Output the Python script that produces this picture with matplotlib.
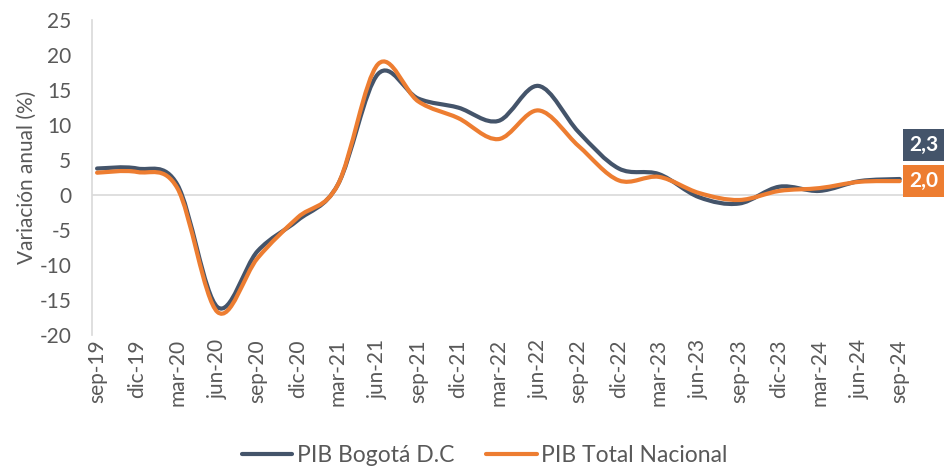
import matplotlib

matplotlib.use("Agg")
import matplotlib.pyplot as plt
import numpy as np
from matplotlib.path import Path
from matplotlib.patches import PathPatch
from matplotlib.lines import Line2D

plt.rcParams["font.family"] = ["Lato", "DejaVu Sans"]
plt.rcParams["axes.unicode_minus"] = False

quarters = ["sep-19", "dic-19", "mar-20", "jun-20", "sep-20", "dic-20", "mar-21",
            "jun-21", "sep-21", "dic-21", "mar-22", "jun-22", "sep-22", "dic-22",
            "mar-23", "jun-23", "sep-23", "dic-23", "mar-24", "jun-24", "sep-24"]
bogota = [3.8, 3.8, 1.5, -16.0, -8.0, -3.6, 1.5, 17.3, 13.8, 12.5, 10.6, 15.6,
          9.0, 3.8, 3.0, -0.3, -1.2, 1.2, 0.6, 2.0, 2.3]
nacional = [3.2, 3.3, 1.0, -16.7, -9.0, -3.2, 1.5, 18.7, 13.4, 11.0, 8.0, 12.1,
            7.0, 2.1, 2.6, 0.3, -0.7, 0.6, 1.0, 1.9, 2.0]

C_BOG = "#44546A"
C_NAC = "#ED7D31"
GRAY = "#595959"


def smooth_path(y):
    # Excel-style smoothed line: Catmull-Rom segments as cubic Beziers
    pts = np.column_stack([np.arange(len(y)), y]).astype(float)
    ext = np.vstack([pts[0], pts, pts[-1]])
    verts, codes = [tuple(pts[0])], [Path.MOVETO]
    for i in range(1, len(ext) - 2):
        p0, p1, p2, p3 = ext[i - 1], ext[i], ext[i + 1], ext[i + 2]
        verts += [tuple(p1 + (p2 - p0) / 6), tuple(p2 - (p3 - p1) / 6), tuple(p2)]
        codes += [Path.CURVE4] * 3
    return Path(verts, codes)


fig = plt.figure(figsize=(9.45, 4.68), dpi=100)
ax = fig.add_axes([0.0974, 0.284, 0.86, 0.673])

for vals, col in [(bogota, C_BOG), (nacional, C_NAC)]:
    ax.add_patch(PathPatch(smooth_path(vals), fill=False, edgecolor=col, lw=3.0,
                           capstyle="round", joinstyle="round"))

ax.set_xlim(-0.125, 20.125)
ax.set_ylim(-20, 25)
ax.set_yticks(range(-20, 26, 5))
ax.set_xticks(range(len(quarters)))
ax.set_xticklabels(quarters, rotation=90)
ax.axhline(0, color="#D9D9D9", lw=1.2, zorder=0)
for s in ["top", "right", "bottom"]:
    ax.spines[s].set_visible(False)
ax.spines["left"].set_color("#D9D9D9")
ax.spines["left"].set_linewidth(1.2)
ax.tick_params(axis="both", length=0, labelsize=15, colors=GRAY, pad=3)
ax.tick_params(axis="y", pad=15)
ax.set_ylabel("Variación anual (%)", fontsize=15, color=GRAY, labelpad=2)

ax.annotate("2,3", xy=(20, bogota[-1]), xytext=(17.5, 24.5), textcoords="offset points",
            ha="center", va="center", fontsize=15, fontweight="bold", color="white",
            bbox=dict(boxstyle="square,pad=0.3", fc=C_BOG, ec="none"), annotation_clip=False)
ax.annotate("2,0", xy=(20, nacional[-1]), xytext=(17.5, 0), textcoords="offset points",
            ha="center", va="center", fontsize=15, fontweight="bold", color="white",
            bbox=dict(boxstyle="square,pad=0.3", fc=C_NAC, ec="none"), annotation_clip=False)

handles = [Line2D([], [], color=C_BOG, lw=3, solid_capstyle="round"),
           Line2D([], [], color=C_NAC, lw=3, solid_capstyle="round")]
leg = fig.legend(handles, ["PIB Bogotá D.C", "PIB Total Nacional"], loc="lower center",
                 bbox_to_anchor=(0.513, -0.04), ncol=2, frameon=False, fontsize=16.5,
                 handlelength=2.2, handletextpad=0.2, columnspacing=1.4)
for t in leg.get_texts():
    t.set_color(GRAY)

fig.savefig("out.png", dpi=100)
